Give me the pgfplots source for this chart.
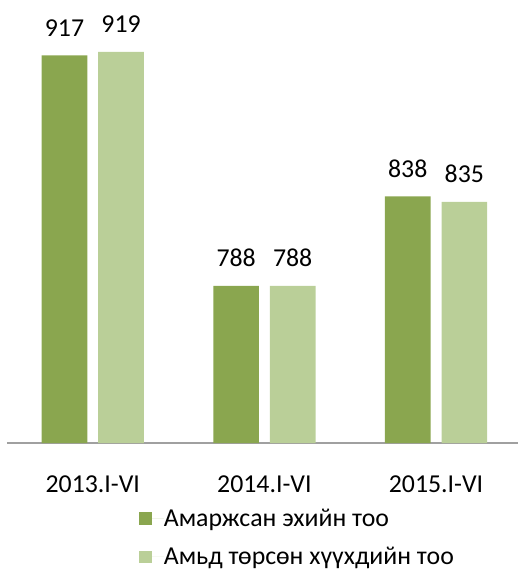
\documentclass[border=0pt]{standalone}
\usepackage{pgfplots}
\pgfplotsset{compat=1.18}
\usepackage{fontspec}
\setmainfont{Carlito}
\definecolor{darkGreen}{RGB}{138,166,79}
\definecolor{lightGreen}{RGB}{186,207,152}
\definecolor{axisGray}{RGB}{160,160,160}

\begin{document}
\begin{tikzpicture}
\begin{axis}[
  scale only axis,
  width=515.5pt, height=446.5pt,
  ybar=11pt, bar width=46pt,
  xmin=-0.5, xmax=2.48,
  ymin=700, ymax=948,
  xtick=data,
  xticklabels={2013.I-VI, 2014.I-VI, 2015.I-VI},
  axis x line*=bottom,
  axis y line=none,
  x axis line style={axisGray, line width=1.5pt, -},
  major tick length=0pt,
  ticklabel style={font=\fontsize{26}{31}\selectfont},
  xticklabel style={yshift=-29pt},
  /pgf/number format/assume math mode=true,
  nodes near coords,
  nodes near coords style={font=\fontsize{26}{31}\selectfont, black, anchor=south, inner sep=0pt, yshift=19pt},
  legend style={at={(0.5,-0.148)}, anchor=north, xshift=34pt, draw=none, fill=none,
    inner sep=0pt, nodes={inner sep=0pt},
    font=\fontsize{26}{31}\selectfont, legend cell align=left,
    row sep=20pt},
  legend image code/.code={\fill[#1] (0pt,-6.5pt) rectangle (13pt,6.5pt); \path (0pt,0pt) -- (25pt,0pt);},
  enlarge x limits=false,
  clip=false,
]
  \addplot[fill=darkGreen, draw=none] coordinates {(0,917) (1,788) (2,838)};
  \addlegendentry{Амаржсан эхийн тоо}
  \addplot[fill=lightGreen, draw=none] coordinates {(0,919) (1,788) (2,835)};
  \addlegendentry{Амьд төрсөн хүүхдийн тоо}
  \path (rel axis cs:0,1) ++(-7pt,0pt) -- (rel axis cs:1,1);
  \path (rel axis cs:0,0) -- ++(0pt,-131pt);
\end{axis}
\end{tikzpicture}
\end{document}
